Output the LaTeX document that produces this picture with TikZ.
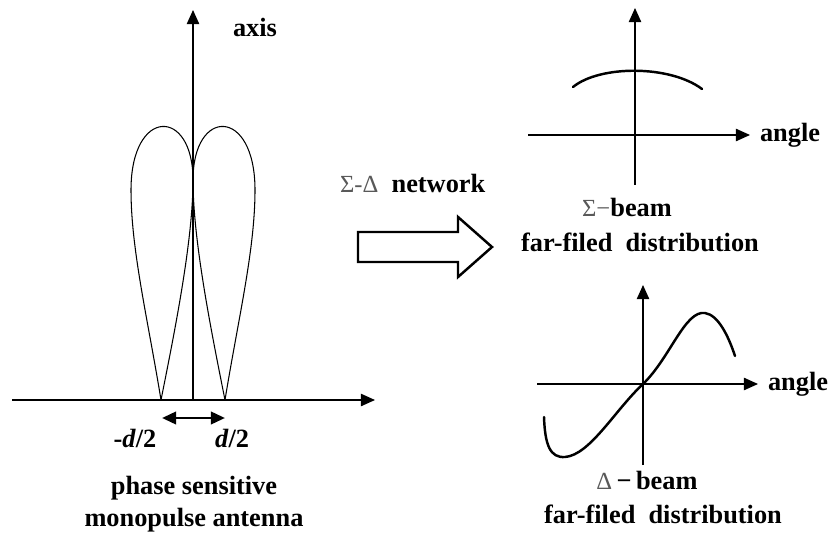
\documentclass[tikz,border=0pt]{standalone}
\usepackage{fontspec}
\setmainfont{Liberation Serif}
\usetikzlibrary{positioning, arrows.meta}

\begin{document}
\begin{tikzpicture}[
  x=0.02cm, y=-0.02cm,
  >={Triangle[length=8pt, width=7pt]},
  lbl/.style={font=\fontsize{15}{18}\selectfont\bfseries, inner sep=1pt, align=center},
  greek/.style={font=\fontsize{14}{18}\selectfont\mdseries, text=black!65},
  axisline/.style={->, line width=0.8pt},
  lobe/.style={line width=0.6pt},
  beam/.style={line width=1.4pt, line cap=round},
  hollow/.style={line width=1.4pt, line join=miter, fill=white}
]
\useasboundingbox (0,0) rectangle (830,540);

% antenna with its two lobes
\coordinate (base0) at (12,400);
\coordinate (base1) at (375,400);
\coordinate (ax0) at (193,400);
\coordinate (ax1) at (193,10);
\coordinate (lfoot) at (161,400);
\coordinate (rfoot) at (225,400);
\draw[axisline] (base0) -- (base1);
\draw[axisline] (ax0) -- (ax1);
\node[lbl] (axislbl) at (255,27) {axis};
\draw[lobe] (lfoot) .. controls (148,320) and (131,250) .. (131,190)
  .. controls (131,107) and (193,107) .. (193,180)
  .. controls (193,240) and (175,330) .. (lfoot);
\draw[lobe] (rfoot) .. controls (238,320) and (255,250) .. (255,190)
  .. controls (255,107) and (193,107) .. (193,180)
  .. controls (193,240) and (211,330) .. (rfoot);
\coordinate (dl) at (162,418);
\coordinate (dr) at (225,418);
\draw[<->, line width=1.6pt] (dl) -- (dr);
\node[lbl] (mdlbl) at (135,438) {-\textit{d}/2};
\node[lbl] (dlbl) at (232,438) {\textit{d}/2};
\node[lbl] (antlbl) at (194,504) {phase sensitive\\monopulse antenna};

% sum-difference network
\node[lbl, anchor=west] (netlbl) at (338,183) {{\fontsize{14}{18}\selectfont\mdseries\color{black!65}Σ-Δ}\ \ network};
\draw[hollow] (358,232) -- (458,232) -- (458,217) -- (492,247)
  -- (458,277) -- (458,262) -- (358,262) -- cycle;

% sum beam
\coordinate (sx0) at (528,135);
\coordinate (sx1) at (750,135);
\coordinate (sy0) at (635,185);
\coordinate (sy1) at (635,8);
\draw[axisline] (sx0) -- (sx1);
\draw[axisline] (sy0) -- (sy1);
\node[lbl, right=4.5pt of sx1] (sang) {angle};
\draw[beam] (573,87) .. controls (600,65) and (670,65) .. (702,89);
\node[lbl] (sumname) at (627,207) {{\fontsize{14}{18}\selectfont\mdseries\color{black!65}Σ−}beam};
\node[lbl] (sumfar) at (640,242) {far-filed\ \ distribution};

% difference beam
\coordinate (dx0) at (537,384);
\coordinate (dx1) at (758,384);
\coordinate (dy0) at (643,465);
\coordinate (dy1) at (643,285);
\draw[axisline] (dx0) -- (dx1);
\draw[axisline] (dy0) -- (dy1);
\node[lbl, right=4.5pt of dx1] (dang) {angle};
\draw[beam] (544,417) .. controls (545,445) and (550,458) .. (565,457)
  .. controls (590,455) and (615,410) .. (643,384)
  .. controls (670,358) and (685,310) .. (705,313)
  .. controls (718,315) and (728,335) .. (735,356);
\node[lbl] (difname) at (647,480) {{\fontsize{14}{18}\selectfont\mdseries\color{black!65}Δ}\,−\,beam};
\node[lbl] (diffar) at (663,514) {far-filed\ \ distribution};
\end{tikzpicture}
\end{document}
